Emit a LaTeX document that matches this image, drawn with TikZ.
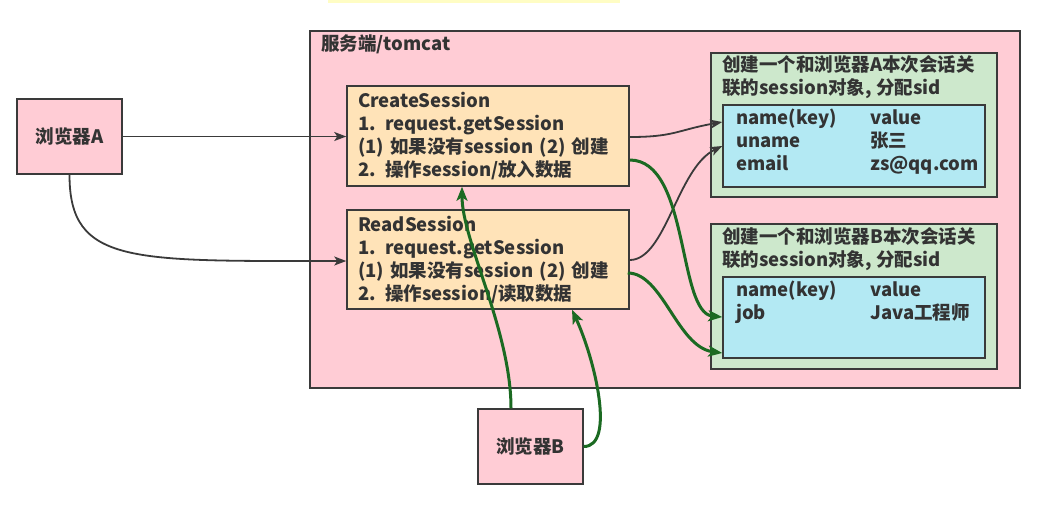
\documentclass[tikz,border=0pt]{standalone}
\usepackage{fontspec}
\setmainfont{Noto Sans CJK SC}
\usetikzlibrary{arrows.meta,calc}
\definecolor{pinkbg}{HTML}{FFCCD5}
\definecolor{orangebg}{HTML}{FFE3B8}
\definecolor{greenbg}{HTML}{CDE8CC}
\definecolor{bluebg}{HTML}{B3E9F3}
\definecolor{edge}{HTML}{3A3A3A}
\definecolor{txt}{HTML}{333333}
\definecolor{darkgreen}{HTML}{1B6A22}
\definecolor{yellowbar}{HTML}{FFFDC4}
\tikzset{
  box/.style={draw=edge, line width=1.5pt, inner sep=0pt},
  lbl/.style={font=\bfseries\fontsize{18.5}{23}\selectfont, text=txt, inner sep=0pt},
  blk/.style={draw=edge, line width=1.8pt, -{Stealth[length=12pt,width=9pt,inset=3pt]}},
  grn/.style={draw=darkgreen, line width=3pt, -{Stealth[length=14pt,width=11pt,inset=3.5pt]}},
}
\begin{document}
\begin{tikzpicture}[x=1pt,y=-1pt]
\useasboundingbox (0,0) rectangle (1050,507);
\fill[yellowbar] (328,0) rectangle (620,3);
% server
\node[box, fill=pinkbg, minimum width=710pt, minimum height=357pt] (server) at (665,209.5) {};
\node[lbl, anchor=west] (servertitle) at (321,44) {服务端/tomcat};
% browsers
\node[box, lbl, fill=pinkbg, minimum width=105pt, minimum height=75pt] (A) at (69.5,136.5) {浏览器A};
\node[box, lbl, fill=pinkbg, minimum width=105pt, minimum height=75pt] (B) at (530.5,446.5) {浏览器B};
% servlets
\node[box, lbl, fill=orangebg, minimum width=282pt, minimum height=100pt, text width=260pt, align=left, inner xsep=11pt] (create) at (488,136)
 {CreateSession\\1. request.getSession\\(1) 如果没有session (2) 创建\\2. 操作session/放入数据};
\node[box, lbl, fill=orangebg, minimum width=282pt, minimum height=99pt, text width=260pt, align=left, inner xsep=11pt] (read) at (488,259.5)
 {ReadSession\\1. request.getSession\\(1) 如果没有session (2) 创建\\2. 操作session/读取数据};
% session A
\node[box, fill=greenbg, minimum width=286pt, minimum height=144pt] (ga) at (854,125) {};
\node[lbl, anchor=west, align=left] (gat) at (722,77) {创建一个和浏览器A本次会话关\\联的session对象, 分配sid};
\node[box, fill=bluebg, minimum width=262pt, minimum height=82pt] (ba) at (854,146) {};
\node[lbl, anchor=west, align=left] (bat) at (736,141.5)
 {\makebox[134pt][l]{name(key)}value\\\makebox[134pt][l]{uname}张三\\\makebox[134pt][l]{email}zs@qq.com};
% session B
\node[box, fill=greenbg, minimum width=286pt, minimum height=145pt] (gb) at (854,296.5) {};
\node[lbl, anchor=west, align=left] (gbt) at (722,249) {创建一个和浏览器B本次会话关\\联的session对象, 分配sid};
\node[box, fill=bluebg, minimum width=262pt, minimum height=81pt] (bb) at (854,317.5) {};
\node[lbl, anchor=west, align=left] (bbt) at (736,302)
 {\makebox[134pt][l]{name(key)}value\\\makebox[134pt][l]{job}Java工程师};
% connectors from A
\draw[blk] (A.east) -- (A.east -| create.west);
\draw[blk] (A.south) .. controls +(0,90) and +(-215,0) .. ($(read.west)+(0,1.5)$);
% black to session A
\draw[blk] ($(create.east)+(0,1)$) .. controls +(45,0) and +(-45,8) .. ($(ba.west)+(0,-24)$);
\draw[blk] ($(read.east)+(0,0.5)$) .. controls +(36,0) and +(-45,22) .. (ba.west);
% green to session B
\draw[grn] ($(create.east)+(0,24)$) .. controls +(60,0) and +(-45,-4) .. ($(bb.west)+(0,-0.5)$);
\draw[grn] ($(read.east)+(-2,13.5)$) .. controls +(35,0) and +(-45,-6) .. ($(bb.west)+(0,35.5)$);
% green from B
\draw[grn] ($(B.north)+(-19.5,0)$) .. controls +(0,-78) and +(0,54) .. ($(create.south)+(-26,0)$);
\draw[grn] (B.east) .. controls +(32,0) and +(23,50) .. ($(read.south)+(84,0)$);
\end{tikzpicture}
\end{document}
